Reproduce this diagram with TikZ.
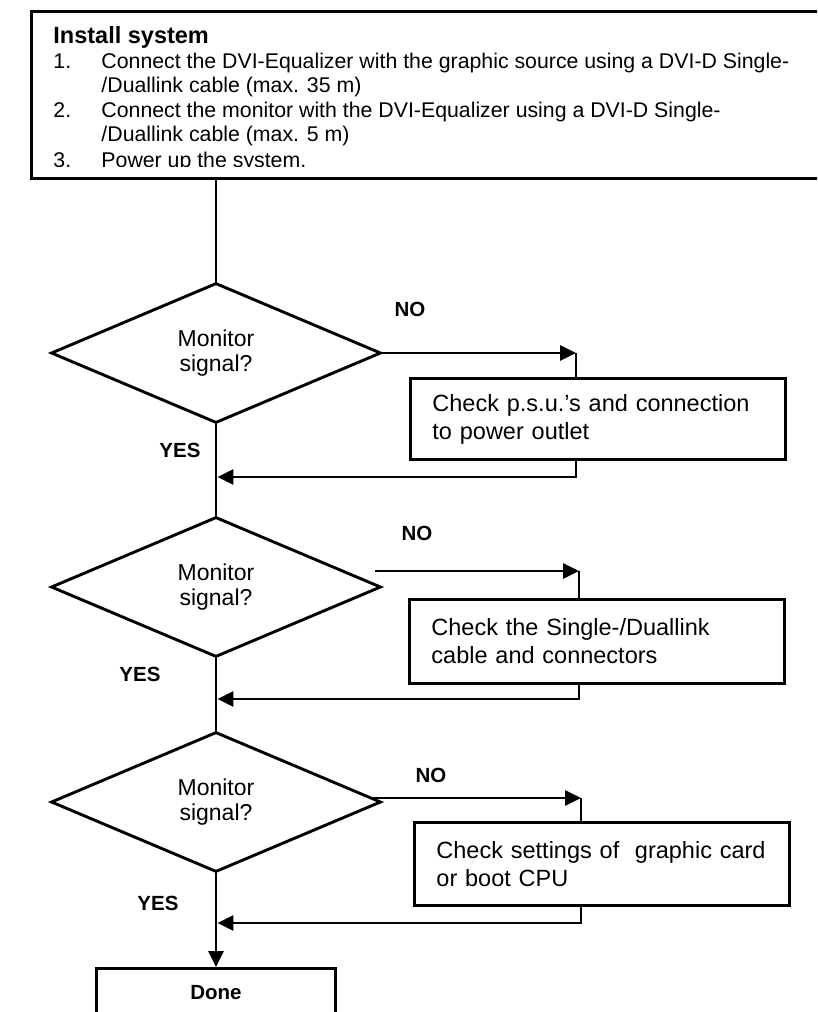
\documentclass[tikz,border=0pt]{standalone}
\usepackage{fontspec}
\setmainfont{Liberation Sans}
\usetikzlibrary{shapes.geometric,arrows.meta}
\begin{document}
\begin{tikzpicture}[x=1pt,y=-1pt,
  line width=2.9pt,
  decision/.style={draw,diamond,aspect=2.357,minimum width=330pt,minimum height=140pt,inner sep=0pt,align=center,font=\fontsize{23}{25}\selectfont},
  actionbox/.style={draw,rectangle,anchor=north west,minimum width=375pt,inner xsep=22pt,inner ysep=0pt,text width=331pt,align=left,font=\fontsize{23.5}{28}\selectfont},
  lbl/.style={font=\bfseries\fontsize{20.5}{24}\selectfont,inner sep=0pt},
  item/.style={anchor=base west,inner sep=0pt,font=\fontsize{21.3}{24}\selectfont},
  arr/.style={-{Triangle[length=16pt,width=15pt]}},
  wire/.style={line cap=butt}
]
\clip (0,0) rectangle (817,1012);
\fill[white] (0,0) rectangle (817,1012);

% install box
\node[draw,rectangle,anchor=north west,minimum width=800pt,minimum height=167pt,inner sep=0pt,line width=3pt] (install) at (30,10) {};
\node[anchor=base west,inner sep=0pt,font=\bfseries\fontsize{23.5}{28}\selectfont] (title) at (52,43) {Install system};
\node[item] (num1) at (52,68) {1.};
\node[item] (txt1a) at (100,68) {Connect the DVI-Equalizer with the graphic source using a DVI-D Single-};
\node[item] (txt1b) at (100,92.5) {/Duallink cable (max. 35 m)};
\node[item] (num2) at (52,117) {2.};
\node[item] (txt2a) at (100,117) {Connect the monitor with the DVI-Equalizer using a DVI-D Single-};
\node[item] (txt2b) at (100,141.5) {/Duallink cable (max. 5 m)};
\begin{scope}
  \clip (0,0) rectangle (817,166.5);
  \node[item] (num3) at (52,167) {3.};
  \node[item] (txt3) at (100,167) {Power up the system.};
\end{scope}

% decisions
\node[decision] (d1) at (216,353) {Monitor\\signal?};
\node[decision] (d2) at (216,587) {Monitor\\signal?};
\node[decision] (d3) at (216,802) {Monitor\\signal?};

% action boxes
\node[actionbox,minimum height=81pt] (b1) at (409,377) {Check p.s.u.’s and connection\\to power outlet};
\node[actionbox,minimum height=84pt] (b2) at (408,598) {Check the Single-/Duallink\\cable and connectors};
\node[actionbox,minimum height=83pt] (b3) at (413,821) {Check settings of\ \ graphic card\\or boot CPU};

% done box
\node[draw,rectangle,anchor=north,minimum width=239pt,text height=15pt,text depth=30pt,inner ysep=16pt,font=\bfseries\fontsize{20.5}{24}\selectfont] (done) at (216,967) {Done};

% labels
\node[lbl] (no1) at (410,309) {NO};
\node[lbl] (no2) at (417,533) {NO};
\node[lbl] (no3) at (431,775) {NO};
\node[lbl] (yes1) at (180,450) {YES};
\node[lbl] (yes2) at (140,674) {YES};
\node[lbl] (yes3) at (158,903) {YES};

% helper coordinates
\coordinate (c1) at (576,353);
\coordinate (r1) at (576,477);
\coordinate (s2) at (375,571);
\coordinate (c2) at (579,571);
\coordinate (r2) at (579,699);
\coordinate (s3) at (371,798);
\coordinate (c3) at (581,798);
\coordinate (r3) at (581,923);

% connectors
\draw[wire] (d1.north |- install.south) -- (d1.north);
\draw[wire,arr] (d1.east) -- (c1);
\draw[wire] (c1) -- (c1 |- b1.north);
\draw[wire,arr] (c1 |- b1.south) -- (r1) -- ([xshift=1.4pt]r1 -| d1.south);
\draw[wire] (d1.south) -- (d2.north);

\draw[wire,arr] (s2) -- (c2);
\draw[wire] (c2) -- (c2 |- b2.north);
\draw[wire,arr] (c2 |- b2.south) -- (r2) -- ([xshift=1.4pt]r2 -| d2.south);
\draw[wire] (d2.south) -- (d3.north);

\draw[wire,arr] (s3) -- (c3);
\draw[wire] (c3) -- (c3 |- b3.north);
\draw[wire,arr] (c3 |- b3.south) -- (r3) -- ([xshift=1.4pt]r3 -| d3.south);
\draw[wire,arr] (d3.south) -- (done.north);
\end{tikzpicture}
\end{document}
